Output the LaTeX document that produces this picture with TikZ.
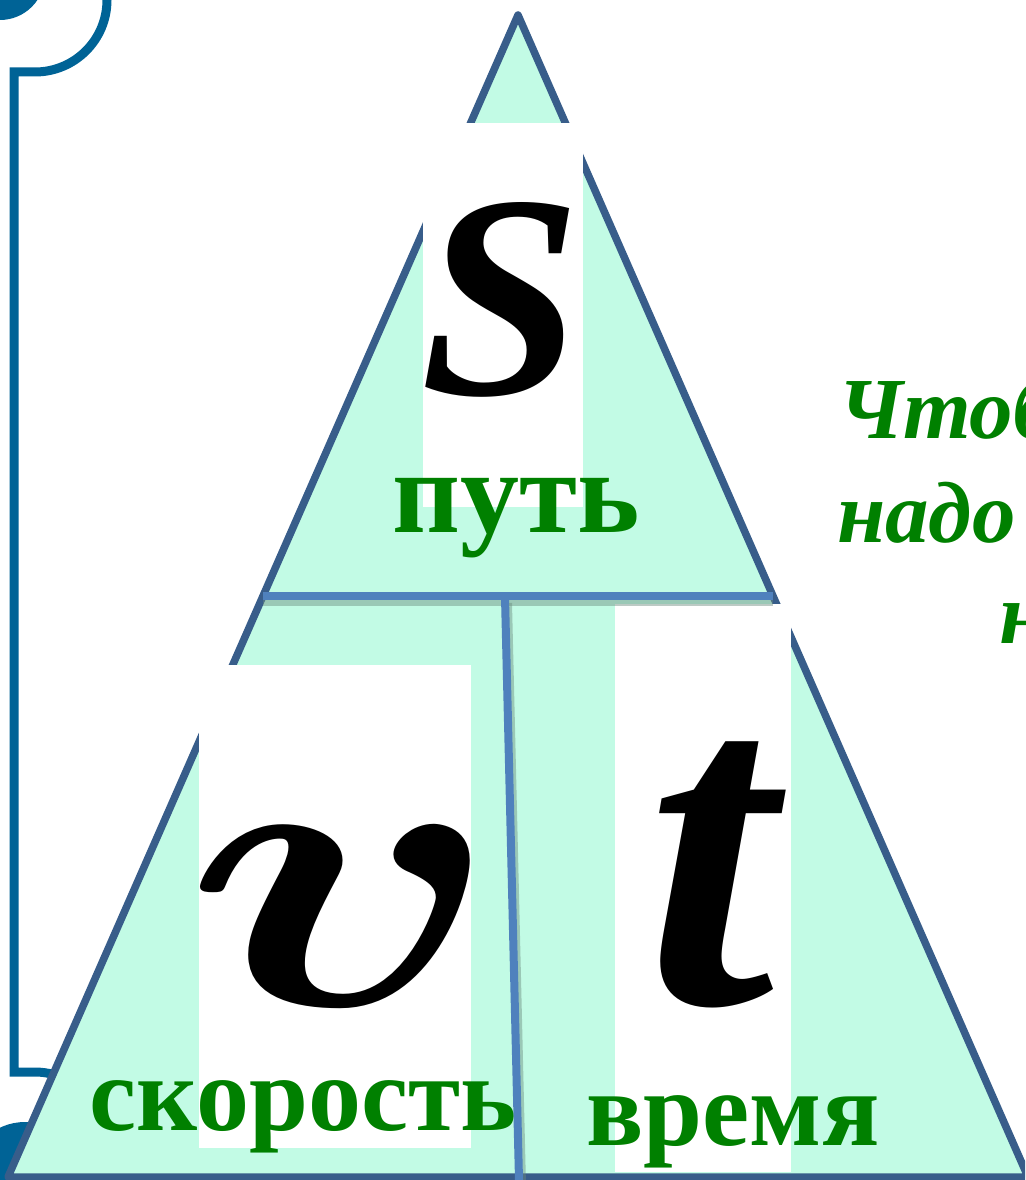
\documentclass[tikz,border=0pt]{standalone}
\usepackage{amsmath}
\usepackage{fontspec}
\setmainfont{Liberation Serif}
\usetikzlibrary{calc}

\definecolor{mint}{RGB}{194,251,229}
\definecolor{edgeblue}{RGB}{56,93,138}
\definecolor{lineblue}{RGB}{79,129,189}
\definecolor{scrollblue}{RGB}{0,99,150}
\definecolor{wordgreen}{RGB}{0,128,0}

\begin{document}
\begin{tikzpicture}[
    x=1pt, y=-1pt,
    card/.style={fill=white, inner sep=0pt},
    letter/.style={inner sep=0pt, font={\fontsize{#1}{#1}\selectfont\bfseries\itshape}},
    word/.style={inner sep=0pt, anchor=base, text=wordgreen,
        font={\fontsize{#1}{#1}\selectfont\bfseries}},
    hint/.style={inner sep=0pt, anchor=base west, text=wordgreen,
        font={\fontsize{87}{87}\selectfont\bfseries\itshape}},
    divider/.style={draw=lineblue, line width=8},
    dshadow/.style={draw=black!45!mint, line width=8, opacity=0.45}
]
\clip (0,0) rectangle (1025,1180);

%-------------------------
% Scroll border
%-------------------------
\fill[scrollblue] (0,-25) circle (45);
\fill[scrollblue] (25,1180) circle (58);
\draw[scrollblue, line width=9] (107,0) arc[start angle=0, end angle=90, radius=72]
    -- (14,72) -- (14,1072) -- (35,1072)
    arc[start angle=270, end angle=330, radius=70];

%-------------------------
% Triangle
%-------------------------
\coordinate (apex) at (518,15);
\coordinate (bl) at (8,1177);
\coordinate (br) at (1028,1177);
\filldraw[fill=mint, draw=edgeblue, line width=7.5, line join=round]
    (apex) -- (br) -- (bl) -- cycle;

% White cards behind the letters
\node[card, minimum width=160, minimum height=384] (boxS) at (503,315) {};
\node[card, minimum width=272, minimum height=483] (boxV) at (335,906.5) {};
\node[card, minimum width=176, minimum height=568] (boxT) at (703,888) {};

%-------------------------
% Dividers
%-------------------------
\coordinate (ml) at ($(apex)!0.5!(bl)$);
\coordinate (mr) at ($(apex)!0.5!(br)$);
\coordinate (vt) at (505,597);
\coordinate (vb) at (519,1180);

\draw[dshadow] ($(ml)+(0,6)$) -- ($(mr)+(0,6)$);
\draw[dshadow] ($(vt)+(3,6)$) -- ($(vb)+(3,6)$);
\draw[divider] (ml) -- (mr);
\draw[divider] (vt) -- (vb);

%-------------------------
% Letters and words
%-------------------------
\node[letter=290] (S) at (501,300) {S};
\node[inner sep=0pt, xscale=53, yscale=40, font={\fontsize{10}{12}\selectfont}]
    (v) at (343,917) {$\boldsymbol{v}$};
\node[letter=465] (t) at (710,875) {t};

\node[word=118] (path) at (516,532) {путь};
\node[word=106] (speed) at (303,1130) {скорость};
\node[word=106] (time) at (733,1145) {время};

%-------------------------
% Side text
%-------------------------
\node[hint] (line1) at (838,438) {Чтоб};
\node[hint] (line2) at (837,542) {надо};
\node[hint] (line3) at (999,643) {н};
\end{tikzpicture}
\end{document}
